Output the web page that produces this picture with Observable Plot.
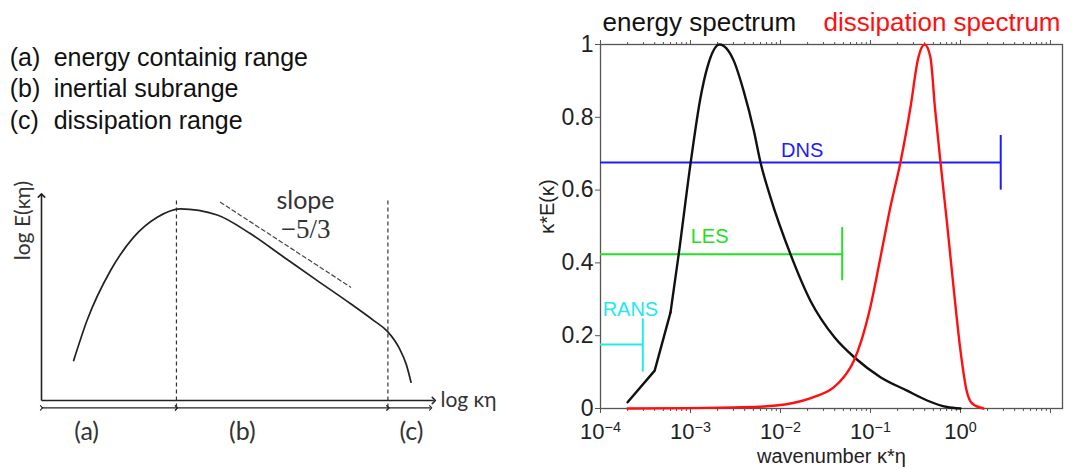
<!DOCTYPE html>
<html><head><meta charset="utf-8">
<script src="https://cdn.jsdelivr.net/npm/d3@7"></script>
<script src="https://cdn.jsdelivr.net/npm/@observablehq/plot@0.6"></script>
<style>
body{margin:0;background:#fff;}
#wrap{position:relative;width:1075px;height:469px;overflow:hidden;}
#left,#right{position:absolute;top:0;}
#left{left:0;}
#right{left:540px;}
svg{overflow:visible;}
</style></head><body>
<div id="wrap"><div id="left"></div><div id="right"></div></div>
<script>
// ---------- Left: schematic ----------
const rangeTags = ["(a)", "(b)", "(c)"];
const rangeNames = ["energy containig range", "inertial subrange", "dissipation range"];
// schematic curve in arbitrary log units (log κη , log E)
const sketchX = [0.82, 1.16, 1.76, 2.35, 2.95, 3.54, 4.48, 5.33, 6.18, 7.03, 7.88, 8.47, 8.83, 9.12, 9.30, 9.42];
const sketchY = [1.95, 3.90, 6.34, 7.97, 8.94, 9.35, 9.05, 8.13, 6.99, 5.85, 4.72, 3.90, 3.35, 2.55, 1.75, 0.89];
const rangeBounds = [0, 3.44, 8.83, 9.92];
const rangeLabelX = [1.15, 5.12, 9.43];
const slopeX = [4.56, 7.88];
const slopeY = [9.67, 5.53];
const axisLen = 10;

// ---------- Right: spectra ----------
const energyK = [2e-4, 4e-4, 6e-4, 7.4e-4, 1e-3, 1.29e-3, 1.53e-3, 2.1e-3, 3.03e-3, 3.9e-3, 5.06e-3, 6e-3, 7.74e-3, 0.0129, 0.0215, 0.04, 0.068, 0.129, 0.255, 0.426, 0.71, 1.0];
const energyE = [0.017, 0.104, 0.264, 0.424, 0.672, 0.853, 0.935, 1.0, 0.955, 0.872, 0.763, 0.676, 0.58, 0.424, 0.296, 0.195, 0.138, 0.086, 0.049, 0.022, 0.004, 0];
const dissK = [2e-4, 1e-3, 3e-3, 7e-3, 0.0167, 0.025, 0.039, 0.05, 0.065, 0.08, 0.1, 0.129, 0.166, 0.215, 0.278, 0.34, 0.40, 0.464, 0.52, 0.6, 0.71, 0.845, 1.0, 1.17, 1.36, 1.8];
const dissD = [0, 0.001, 0.003, 0.006, 0.02, 0.034, 0.058, 0.085, 0.13, 0.19, 0.28, 0.415, 0.552, 0.676, 0.827, 0.964, 1.0, 0.964, 0.827, 0.676, 0.507, 0.324, 0.159, 0.049, 0.013, 0];

const methods = ["DNS", "LES", "RANS"];
const methodColors = ["#1c1cff", "#22e022", "#22eaea"];
const methodFrom = [1e-4, 1e-4, 1e-4];
const methodLevel = [0.676, 0.424, 0.176];
const methodCutoff = [2.8, 0.0485, 2.95e-4];
const methodTickLo = [0.6, 0.351, 0.1];
const methodTickHi = [0.75, 0.497, 0.246];
const methodLabelK = [0.0174, 1.63e-3, 2.15e-4];
const methodLabelY = [0.69, 0.456, 0.255];

const yTicks = [0, 0.2, 0.4, 0.6, 0.8, 1];
const xMajor = [1e-4, 1e-3, 1e-2, 1e-1, 1, 10];
const xMinor = [1e-4, 1e-3, 1e-2, 1e-1, 1].flatMap(d => [2, 3, 4, 5, 6, 7, 8, 9].map(m => +(m * d).toPrecision(3)));

// ---------- build left ----------
const sketch = sketchX.map((x, i) => ({x, y: sketchY[i]}));
const slope = slopeX.map((x, i) => ({x, y: slopeY[i]}));
const rowY = -0.36, dashTop = 9.84;
const sans2 = "Lato, 'Open Sans', 'Noto Sans', sans-serif";
const left = Plot.plot({
  width: 540, height: 469,
  marginLeft: 41, marginRight: 106.7, marginTop: 195, marginBottom: 69,
  x: {domain: [0, axisLen], axis: null},
  y: {domain: [0, axisLen], axis: null},
  style: {background: "transparent", overflow: "visible"},
  marks: [
    Plot.link([{x1: 0, y1: 0, x2: 0, y2: axisLen}, {x1: 0, y1: 0, x2: axisLen, y2: 0}],
      {x1: "x1", y1: "y1", x2: "x2", y2: "y2", stroke: "#222", strokeWidth: 1.6, markerEnd: "arrow"}),
    Plot.link(d3.pairs(rangeBounds), {x1: d => d[0], x2: d => d[1], y1: () => rowY, y2: () => rowY,
      stroke: "#222", strokeWidth: 1.1, markerStart: "arrow", markerEnd: "arrow"}),
    Plot.ruleX(rangeBounds.slice(1, 3), {y1: () => rowY, y2: () => dashTop, stroke: "#333", strokeWidth: 1.2, strokeDasharray: "4,3"}),
    Plot.line(sketch, {x: "x", y: "y", curve: "monotone-x", stroke: "#222", strokeWidth: 1.7}),
    Plot.line(slope, {x: "x", y: "y", stroke: "#444", strokeWidth: 1.2, strokeDasharray: "4,3"}),
    Plot.text(["slope"], {x: () => 6.73, y: () => 9.35, lineAnchor: "bottom", fontSize: 25, fontFamily: sans2, fill: "#333"}),
    Plot.text(["−5/3"], {x: () => 6.73, y: () => 7.95, lineAnchor: "bottom", fontSize: 27, fontFamily: "'Liberation Serif', 'DejaVu Serif', serif", fill: "#333"}),
    Plot.text(rangeTags, {x: (d, i) => rangeLabelX[i], y: () => -1.95, lineAnchor: "bottom", fontSize: 25, fontFamily: sans2, fill: "#333"}),
    Plot.text(["log κη"], {x: () => 10.17, y: () => 0, textAnchor: "start", lineAnchor: "middle", fontSize: 21, fontFamily: sans2, fill: "#333"}),
    Plot.text(["log E(κη)"], {x: () => -0.46, y: () => 8.78, rotate: -90, lineAnchor: "middle", fontSize: 21, fontFamily: sans2, fill: "#333"}),
    Plot.text(rangeTags, {x: () => -0.81, y: (d, i) => 16.34 - i * 1.55, textAnchor: "start", lineAnchor: "bottom", fontSize: 25, fontFamily: "'Liberation Sans', Arial, sans-serif", fill: "#111"}),
    Plot.text(rangeNames, {x: () => 0.31, y: (d, i) => 16.34 - i * 1.55, textAnchor: "start", lineAnchor: "bottom", fontSize: 25, fontFamily: "'Liberation Sans', Arial, sans-serif", fill: "#111"})
  ]
});
document.getElementById("left").appendChild(left);

// ---------- build right ----------
const energy = energyK.map((k, i) => ({k, v: energyE[i]}));
const diss = dissK.map((k, i) => ({k, v: dissD[i]}));
const meth = methods.map((name, i) => ({name, color: methodColors[i], from: methodFrom[i], level: methodLevel[i], cutoff: methodCutoff[i], lo: methodTickLo[i], hi: methodTickHi[i], lk: methodLabelK[i], ly: methodLabelY[i]}));
const axisCol = "#555", textCol = "#222";
const right = Plot.plot({
  width: 535, height: 469,
  marginLeft: 60, marginRight: 13, marginTop: 44, marginBottom: 61,
  x: {type: "log", domain: [1e-4, 13.6]},
  y: {domain: [0, 1]},
  color: {type: "identity"},
  style: {fontFamily: "'Liberation Sans', Arial, sans-serif", background: "transparent", overflow: "visible"},
  marks: [
    Plot.axisY({ticks: yTicks, anchor: "left", tickSize: 5, tickPadding: 2, fontSize: 23, tickFormat: d => String(d), label: null, stroke: axisCol, fill: textCol}),
    Plot.axisX({ticks: xMajor, anchor: "bottom", tickSize: 5, tickPadding: 10, fontSize: 22, tickFormat: d => d <= 1 ? "10^" + Math.round(Math.log10(d)) : "", label: null, stroke: axisCol, fill: textCol}),
    Plot.axisX({ticks: xMinor, anchor: "bottom", tickSize: 3, tickFormat: () => "", label: null, stroke: axisCol}),
    Plot.axisX({ticks: xMajor, anchor: "top", tickSize: 5, tickFormat: () => "", label: null, stroke: axisCol}),
    Plot.axisX({ticks: xMinor, anchor: "top", tickSize: 3, tickFormat: () => "", label: null, stroke: axisCol}),
    Plot.frame({stroke: axisCol, strokeWidth: 1.3}),
    Plot.ruleY(meth, {y: "level", x1: "from", x2: "cutoff", stroke: "color", strokeWidth: 2}),
    Plot.ruleX(meth, {x: "cutoff", y1: "lo", y2: "hi", stroke: "color", strokeWidth: 2}),
    Plot.text(meth, {x: "lk", y: "ly", text: "name", fill: "color", fontSize: 20, lineAnchor: "bottom"}),
    Plot.line(energy.slice(0, 3), {x: "k", y: "v", stroke: "#111", strokeWidth: 2.4}),
    Plot.line(energy.slice(2), {x: "k", y: "v", curve: "monotone-x", stroke: "#111", strokeWidth: 2.4}),
    Plot.line(diss, {x: "k", y: "v", curve: "monotone-x", stroke: "#ff1010", strokeWidth: 2.4}),
    Plot.text(["energy spectrum"], {frameAnchor: "top-left", textAnchor: "start", lineAnchor: "bottom", dx: 2, dy: -13.5, fontSize: 26, fill: "#111"}),
    Plot.text(["dissipation spectrum"], {frameAnchor: "top-right", textAnchor: "end", lineAnchor: "bottom", dx: -2, dy: -13.5, fontSize: 26, fill: "#ff1010"}),
    Plot.text(["κ*E(κ)"], {frameAnchor: "left", y: () => 0.48, dx: -53, rotate: -90, lineAnchor: "middle", fontSize: 20, fill: textCol}),
    Plot.text(["wavenumber κ*η"], {frameAnchor: "bottom", dy: 54, lineAnchor: "bottom", fontSize: 20, fill: textCol})
  ]
});
d3.select(right).selectAll("text").each(function () {
  const m = /^10\^(-?\d+)$/.exec(this.textContent);
  if (m) {
    const s = d3.select(this);
    s.text("10");
    s.append("tspan").attr("dy", "-0.5em").attr("font-size", "0.65em").text(m[1].replace("-", "−"));
  }
});
document.getElementById("right").appendChild(right);
</script>
</body></html>
